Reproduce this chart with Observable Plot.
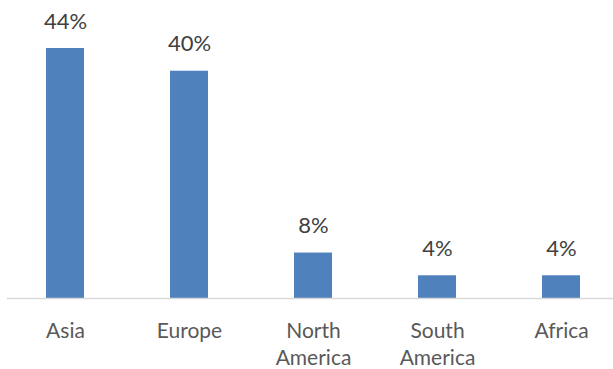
<!DOCTYPE html>
<html>
<head>
<meta charset="utf-8">
<script src="https://cdn.jsdelivr.net/npm/d3@7"></script>
<script src="https://cdn.jsdelivr.net/npm/@observablehq/plot@0.6"></script>
<style>
  html, body { margin: 0; padding: 0; background: #ffffff; }
  #chart { width: 613px; height: 369px; }
</style>
</head>
<body>
<div id="chart"></div>
<script>
const regions = ["Asia", "Europe", "North America", "South America", "Africa"];
const shares = [44, 40, 8, 4, 4];
const tickLabels = ["Asia", "Europe", "North\nAmerica", "South\nAmerica", "Africa"];

const data = regions.map((r, i) => ({region: r, share: shares[i], label: shares[i] + "%", tick: tickLabels[i]}));

const chart = Plot.plot({
  width: 613,
  height: 369,
  marginLeft: 7,
  marginRight: 0,
  marginTop: 0,
  marginBottom: 0,
  style: {fontFamily: "Lato, 'Liberation Sans', sans-serif", background: "#ffffff"},
  x: {domain: regions, range: [3, 623], paddingInner: 0.69, paddingOuter: 0.345, axis: null},
  y: {domain: [0, 44], range: [298, 48], axis: null},
  marks: [
    Plot.barY(data, {x: "region", y: "share", fill: "#4f81bd"}),
    Plot.ruleY([0], {stroke: "#d9d9d9", strokeWidth: 1.5}),
    Plot.text(data, {x: "region", y: "share", text: "label", lineAnchor: "bottom", dy: -20, fontSize: 22, fill: "#404040"}),
    Plot.text(data, {x: "region", y: d => 0, text: "tick", lineAnchor: "top", dy: 20, fontSize: 21, lineHeight: 1.3, fill: "#595959"})
  ]
});
document.getElementById("chart").appendChild(chart);
</script>
</body>
</html>
